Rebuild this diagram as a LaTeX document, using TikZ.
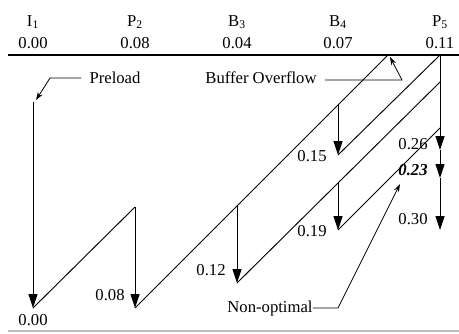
\documentclass[tikz,border=0pt]{standalone}
\usepackage{fontspec}
\setmainfont{Liberation Serif}
\usetikzlibrary{arrows.meta}
\begin{document}
\begin{tikzpicture}[x=0.75pt,y=-0.75pt,
  every node/.style={font=\fontsize{12.5}{14}\selectfont, inner sep=0pt},
  ln/.style={line width=0.7pt},
  arr/.style={ln, -{Triangle[length=10.5pt,width=6.8pt]}},
  lead/.style={line width=0.6pt, -{Stealth[length=6pt,width=4pt]}},
  hdr/.style={anchor=base}]
\useasboundingbox (0,0) rectangle (459,333);
% header
\foreach \n/\x/\lab/\val in {h1/33/I\textsubscript{1}/0.00, h2/135/P\textsubscript{2}/0.08, h3/237/B\textsubscript{3}/0.04, h4/338/B\textsubscript{4}/0.07, h5/440/P\textsubscript{5}/0.11}{
  \node[hdr] (\n n) at (\x,26) {\lab};
  \node[hdr] (\n v) at (\x,48) {\val};
}
\coordinate (hl) at (8,55);
\coordinate (hr) at (459,55);
\draw[line width=1pt] (hl) -- (hr);
\coordinate (bl) at (8,331);
\coordinate (br) at (459,331);
\draw[line width=0.8pt, black!25] (bl) -- (br);
% points
\coordinate (s0) at (33,102);
\coordinate (b0) at (33,308);
\coordinate (p2t) at (135,207);
\coordinate (p2b) at (135,308);
\coordinate (b3t) at (237,206);
\coordinate (b3b) at (237,283);
\coordinate (b4t) at (338,105);
\coordinate (b4b) at (338,155);
\coordinate (bo) at (388,55);
\coordinate (p5) at (440,55);
\coordinate (c4t) at (338,182);
\coordinate (c4b) at (338,230);
\coordinate (p5b) at (440,82);
\coordinate (p5c) at (440,128);
\coordinate (t1) at (440,150);
\coordinate (t2) at (440,178);
\coordinate (t3) at (440,230);
% chains
\draw[arr] (s0) -- (b0);
\draw[ln] (b0) -- (p2t);
\draw[arr] (p2t) -- (p2b);
\draw[ln] (p2b) -- (bo);
\draw[arr] (b3t) -- (b3b);
\draw[arr] (b4t) -- (b4b);
\draw[ln] (b4b) -- (p5);
\draw[ln] (b3b) -- (p5b);
\draw[arr] (c4t) -- (c4b);
\draw[ln] (c4b) -- (p5c);
\draw[arr] (p5) -- (t1);
\draw[arr] (t1) -- (t2);
\draw[arr] (t2) -- (t3);
% labels
\node (l0) at (33,320) {0.00};
\node (l8) at (110,295) {0.08};
\node (l12) at (211,270) {0.12};
\node (l15) at (312,156) {0.15};
\node (l19) at (312,231) {0.19};
\node (l26) at (413,144) {0.26};
\node (l23) at (413,170) {\bfseries\itshape 0.23};
\node (l30) at (413,219) {0.30};
% leaders
\node (pre) at (115,78) {Preload};
\coordinate (pk) at (50,78);
\coordinate (pt) at (36,100);
\draw[lead] (pre.west) ++(-8,0) -- (pk) -- (pt);
\node (bof) at (261,78) {Buffer Overflow};
\coordinate (bk) at (402,80);
\coordinate (bt) at (390,57);
\draw[lead] ([xshift=6pt]bof.east |- bk) -- (bk) -- (bt);
\node (nop) at (270,308) {Non-optimal};
\coordinate (nk) at (338,308);
\coordinate (nt) at (400,184);
\draw[lead] (nop.east) -- (nk) -- (nt);
\end{tikzpicture}
\end{document}
